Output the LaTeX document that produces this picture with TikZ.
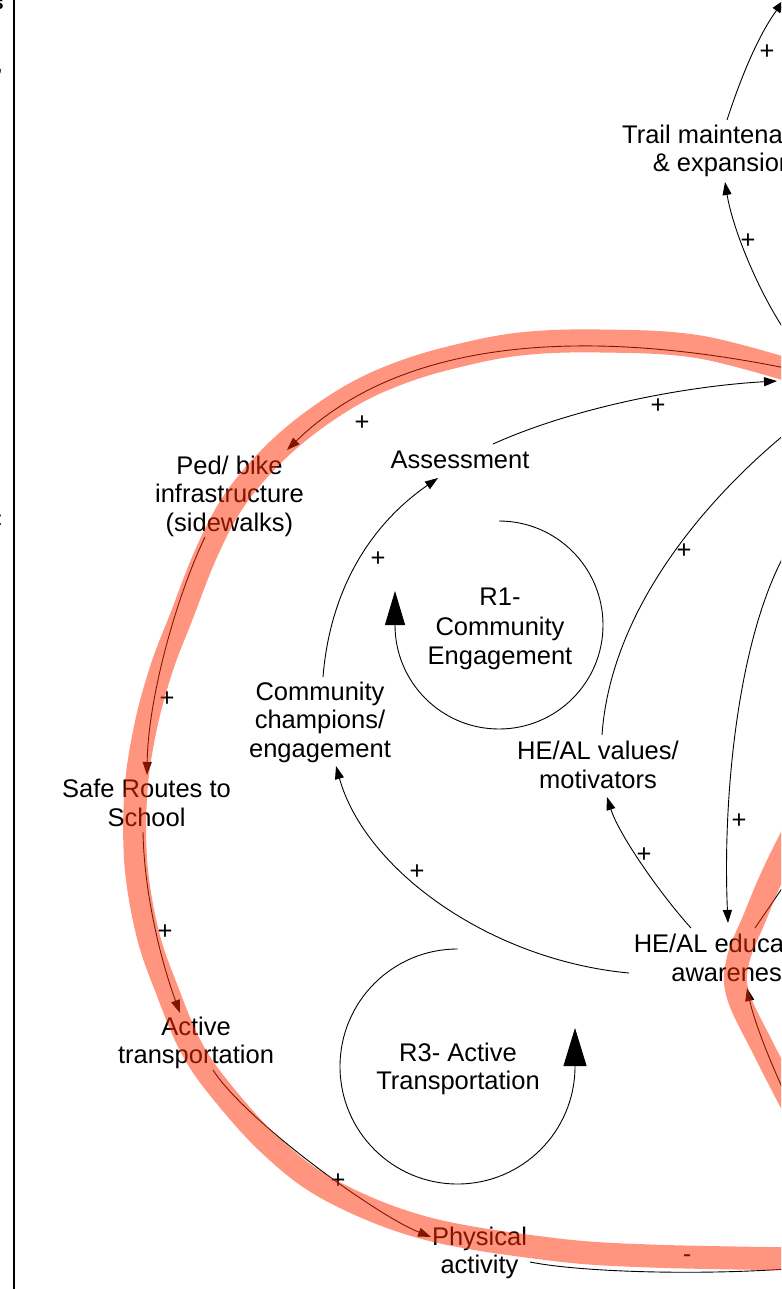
\documentclass[tikz,border=0pt]{standalone}
\usepackage{fontspec}
\setmainfont{Liberation Sans}
\usetikzlibrary{arrows.meta}

\definecolor{bandred}{RGB}{255,45,0}

\begin{document}
\begin{tikzpicture}[x=1pt,y=1pt,
  var/.style={align=center, inner sep=0pt, font=\fontsize{25.5}{28.5}\selectfont},
  sgn/.style={inner sep=0pt, font=\fontsize{25.5}{28.5}\selectfont},
  link/.style={line width=0.9pt, -{Triangle[length=13pt,width=9pt]}},
  plain/.style={line width=0.9pt},
  loopmark/.style={line width=0.9pt},
  band/.style={line width=23pt, draw=bandred, opacity=0.5, line cap=round, line join=round}
]
\path[use as bounding box] (0,0) rectangle (781,-1289);
\fill[white] (0,0) rectangle (781,-1289);
\clip (0,0) rectangle (781,-1289);

% variables
\node[var] (trail)  at (723,-151)   {Trail maintenance\\\& expansion};
\node[var] (assess) at (460,-460)   {Assessment};
\node[var] (ped)    at (229.5,-496) {Ped/ bike\\infrastructure\\(sidewalks)};
\node[var] (comm)   at (320,-722)   {Community\\champions/\\engagement};
\node[var] (srts)   at (146.5,-803) {Safe Routes to\\School};
\node[var] (vals)   at (598,-765)   {HE/AL values/\\motivators};
\node[var] (edu)    at (733,-958)   {HE/AL education/\\awareness};
\node[var] (active) at (196,-1043)  {Active\\transportation};
\node[var] (phys)   at (479.5,-1253){Physical\\activity};

% loop labels
\node[var, font=\fontsize{25.5}{29.5}\selectfont] (r1) at (500,-629) {R1-\\Community\\Engagement};
\node[var] (r3) at (458,-1069) {R3- Active\\Transportation};

% ends of links that continue past the frame
\coordinate (cTop)     at (784,0);
\coordinate (cHubA)    at (790,-338);
\coordinate (cHubB)    at (777,-381);
\coordinate (cHubC)    at (800,-422);
\coordinate (cHubD)    at (800,-530);
\coordinate (cBandIn)  at (795,-370);
\coordinate (cEduOut)  at (800,-862);
\coordinate (cEduIn)   at (800,-1125);
\coordinate (cPhysOut) at (800,-1268);

% causal links
\draw[link] ([shift={(4,31)}]trail.center) .. controls +(14,43) and +(-26,-36) .. (cTop);
\draw[link] (cHubA) .. controls +(-29,40) and +(8,-49) .. ([shift={(2,-31)}]trail.center);
\draw[link] ([shift={(33,16)}]assess.center) .. controls +(82,37) and +(-90,-5) .. (cHubB);
\draw[link] ([shift={(3,45)}]comm.center) .. controls +(7,87) and +(-68,-47) .. ([shift={(-22,-18)}]assess.center);
\draw[link] ([shift={(-104,-15)}]edu.center) .. controls +(-139,13) and +(29,-104) .. ([shift={(16,-44)}]comm.center);
\draw[link] ([shift={(-42,30)}]edu.center) .. controls +(-30,33) and +(12,-38) .. ([shift={(9,-32)}]vals.center);
\draw[plain] ([shift={(4,30)}]vals.center) .. controls +(9,130) and +(-87,-68) .. (cHubC);
\draw[link] (cHubD) .. controls +(-60,-80) and +(-6,133) .. ([shift={(-5,35)}]edu.center);
\draw[link] (cBandIn) .. controls +(-215,45) and +(113,110) .. ([shift={(57.5,46)}]ped.center);
\draw[link] ([shift={(-24.5,-41)}]ped.center) .. controls +(-30,-63) and +(1,75) .. ([shift={(0.5,28)}]srts.center);
\draw[link] ([shift={(-3.5,-29)}]srts.center) .. controls +(1,-58) and +(-20.5,56) .. ([shift={(-16,30)}]active.center);
\draw[link] ([shift={(17,-27)}]active.center) .. controls +(32,-50) and +(-56,22.5) .. ([shift={(-48.5,16)}]phys.center);
\draw[plain] ([shift={(50.5,-9)}]phys.center) .. controls +(50,-10) and +(-100,-8) .. (cPhysOut);
\draw[plain] ([shift={(22,30)}]edu.center) -- (cEduOut);
\draw[link] (cEduIn) .. controls +(-25,50) and +(8,-37) .. ([shift={(14,-30)}]edu.center);

% polarity signs
\node[sgn] (s1)  at (767,-52)   {+};
\node[sgn] (s2)  at (748,-241)  {+};
\node[sgn] (s3)  at (658,-406)  {+};
\node[sgn] (s4)  at (378,-559)  {+};
\node[sgn] (s5)  at (417,-872)  {+};
\node[sgn] (s6)  at (644,-855)  {+};
\node[sgn] (s7)  at (684,-551)  {+};
\node[sgn] (s8)  at (739,-821)  {+};
\node[sgn] (s9)  at (362,-423)  {+};
\node[sgn] (s10) at (167,-699)  {+};
\node[sgn] (s11) at (165,-932)  {+};
\node[sgn] (s12) at (338,-1181) {+};
\node[sgn] (s13) at (687,-1259) {-};

% loop markers
\draw[loopmark, -{Triangle[length=34pt,width=20pt]}]
  ([shift={(-1,108)}]r1.center) arc[start angle=90, end angle=-180, radius=104] -- ++(0,34);
\draw[loopmark, -{Triangle[length=38pt,width=23pt]}]
  ([shift={(-0.5,120)}]r3.center) arc[start angle=90, end angle=360, radius=117.5] -- ++(0,38.5);

% highlighted loop
\draw[band] plot[smooth, tension=0.6] coordinates {
  (805,-375) (700,-347) (600,-341) (520,-344) (453,-357) (400,-373) (352,-395)
  (302,-429) (262,-466) (230,-507) (205,-556) (182,-615) (162,-667) (146,-725)
  (136,-790) (136,-865) (148,-935) (167,-990) (190,-1045) (218,-1087)
  (270,-1145) (330,-1190) (425,-1228) (550,-1249) (650,-1256) (805,-1259)};
\draw[band] plot[smooth, tension=0.6] coordinates {
  (815,-790) (775,-870) (755,-917) (738,-960) (738,-995) (764,-1050) (800,-1120)};

% frame rule and neighbouring column
\draw[line width=2.5pt] (14,0) -- (14,-1289);
\node[anchor=north east, inner sep=0pt, font=\bfseries\fontsize{20}{20}\selectfont] (fa) at (4,1) {s};
\node[anchor=east, inner sep=0pt, font=\fontsize{20}{20}\selectfont] (fb) at (3,-72) {,};
\node[anchor=east, inner sep=0pt, font=\fontsize{20}{20}\selectfont] (fc) at (3,-520) {:};
\end{tikzpicture}
\end{document}
